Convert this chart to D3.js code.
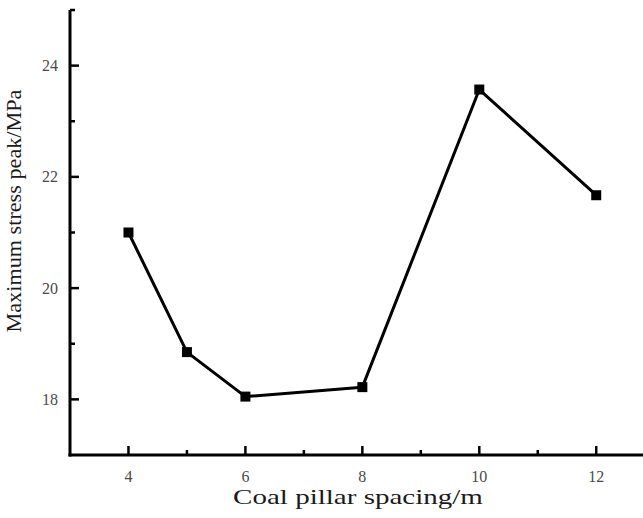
<!DOCTYPE html>
<html>
<head>
<meta charset="utf-8">
<script src="https://cdn.jsdelivr.net/npm/d3@7"></script>
<style>
  body { margin: 0; background: #fff; }
  svg { display: block; }
</style>
</head>
<body>
<svg></svg>
<script>
// data
const spacing = [4, 5, 6, 8, 10, 12];
const stressPeak = [21.0, 18.85, 18.05, 18.22, 23.57, 21.67];
const xMajorTicks = [4, 6, 8, 10, 12];
const xMinorTicks = [5, 7, 9, 11];
const yMajorTicks = [18, 20, 22, 24];
const yMinorTicks = [19, 21, 23];

const width = 643, height = 518;
const marginLeft = 70, marginTop = 10, axisBottom = 455;

const svg = d3.select("svg").attr("width", width).attr("height", height);

const x = d3.scaleLinear().domain([3, 12.8]).range([marginLeft, 643]);
const y = d3.scaleLinear().domain([17, 25]).range([axisBottom, marginTop]);

const font = "'Liberation Serif', 'Times New Roman', serif";

// x axis
const gx = svg.append("g").attr("transform", `translate(0,${axisBottom})`);
gx.append("line").attr("x1", marginLeft - 1.5).attr("x2", width).attr("stroke", "#000").attr("stroke-width", 3);
gx.selectAll(".xmaj").data(xMajorTicks).enter().append("line")
  .attr("x1", d => x(d)).attr("x2", d => x(d)).attr("y1", 0).attr("y2", -9)
  .attr("stroke", "#000").attr("stroke-width", 2.5);
gx.selectAll(".xmin").data(xMinorTicks).enter().append("line")
  .attr("x1", d => x(d)).attr("x2", d => x(d)).attr("y1", 0).attr("y2", -5)
  .attr("stroke", "#000").attr("stroke-width", 2.5);
gx.selectAll(".xlab").data(xMajorTicks).enter().append("text")
  .attr("x", d => x(d)).attr("y", 27)
  .attr("text-anchor", "middle")
  .style("font-family", font).style("font-size", "16px").style("fill", "#4a4a4a")
  .text(d => d);

// y axis
const gy = svg.append("g").attr("transform", `translate(${marginLeft},0)`);
gy.append("line").attr("y1", marginTop).attr("y2", axisBottom + 1.5).attr("stroke", "#000").attr("stroke-width", 3);
gy.append("line").attr("x1", 0).attr("x2", 5).attr("y1", y(25)).attr("y2", y(25)).attr("stroke", "#000").attr("stroke-width", 2.5);
gy.selectAll(".ymaj").data(yMajorTicks).enter().append("line")
  .attr("y1", d => y(d)).attr("y2", d => y(d)).attr("x1", 0).attr("x2", 9)
  .attr("stroke", "#000").attr("stroke-width", 2.5);
gy.selectAll(".ymin").data(yMinorTicks).enter().append("line")
  .attr("y1", d => y(d)).attr("y2", d => y(d)).attr("x1", 0).attr("x2", 5)
  .attr("stroke", "#000").attr("stroke-width", 2.5);
gy.selectAll(".ylab").data(yMajorTicks).enter().append("text")
  .attr("x", -12).attr("y", d => y(d)).attr("dy", "0.35em")
  .attr("text-anchor", "end")
  .style("font-family", font).style("font-size", "16px").style("fill", "#4a4a4a")
  .text(d => d);

// axis titles (glyphs in the original are a bit wider, so stretch to fit)
const xTitle = svg.append("g");
const xt = xTitle.append("text")
  .attr("text-anchor", "middle")
  .style("font-family", font).style("font-size", "22px").style("fill", "#1a1a1a")
  .text("Coal pillar spacing/m");
const xs = 250 / xt.node().getComputedTextLength();
xTitle.attr("transform", `translate(358,504) scale(${xs},1)`);

const yTitle = svg.append("g");
const yt = yTitle.append("text")
  .attr("text-anchor", "middle")
  .style("font-family", font).style("font-size", "20px").style("fill", "#1a1a1a")
  .text("Maximum stress peak/MPa");
const ys = 243 / yt.node().getComputedTextLength();
yTitle.attr("transform", `translate(21,211) rotate(-90) scale(${ys},1)`);

// line + square markers
const pts = spacing.map((d, i) => [d, stressPeak[i]]);
const line = d3.line().x(d => x(d[0])).y(d => y(d[1]));

svg.append("path")
  .attr("d", line(pts))
  .attr("fill", "none")
  .attr("stroke", "#000")
  .attr("stroke-width", 3)
  .attr("stroke-linejoin", "round");

svg.selectAll(".pt").data(pts).enter().append("rect")
  .attr("x", d => x(d[0]) - 5).attr("y", d => y(d[1]) - 5)
  .attr("width", 10).attr("height", 10)
  .attr("fill", "#000");
</script>
</body>
</html>
